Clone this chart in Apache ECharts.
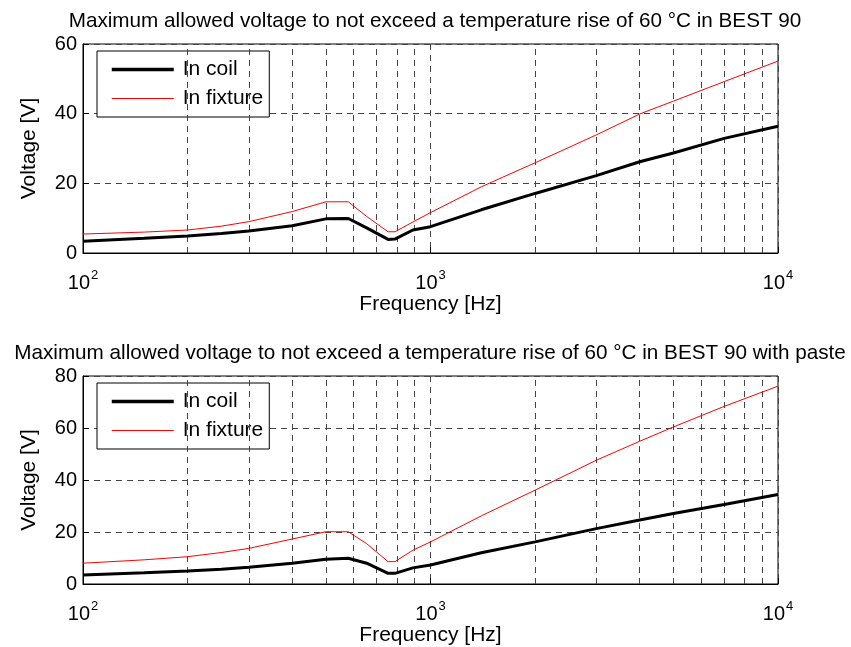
<!DOCTYPE html>
<html>
<head>
<meta charset="utf-8">
<script src="https://cdn.jsdelivr.net/npm/echarts@6/dist/echarts.min.js"></script>
<style>html,body{margin:0;padding:0;background:#fff;}#c{width:851px;height:647px;}</style>
</head>
<body>
<div id="c"></div>
<script>
// ---- data ----
var freq = [100, 150, 200, 250, 300, 400, 500, 580, 655, 755, 790, 890, 1000, 1400, 2000, 3000, 4000, 5000, 7000, 10000];
var coilTop    = [3.4, 4.2, 4.9, 5.6, 6.3, 7.8, 9.8, 9.9, 7.2, 3.9, 4.0, 6.6, 7.55, 12.4, 17.1, 22.2, 26.2, 28.7, 32.9, 36.4];
var fixtureTop = [5.45, 6.0, 6.6, 7.7, 9.0, 11.9, 14.7, 14.7, 10.5, 6.1, 6.1, 8.9, 11.6, 19.0, 25.9, 33.9, 39.9, 43.6, 49.2, 55.1];
var coilBot    = [3.5, 4.3, 5.0, 5.7, 6.4, 8.0, 9.5, 9.9, 8.0, 4.1, 4.1, 6.2, 7.3, 12.0, 16.2, 21.3, 24.6, 27.1, 30.6, 34.4];
var fixtureBot = [8.0, 9.3, 10.5, 12.1, 13.7, 17.3, 20.1, 20.1, 15.5, 8.6, 8.6, 13.0, 16.2, 26.2, 36.1, 47.6, 54.9, 60.4, 68.3, 76.1];
var minorGridFreq = [200, 300, 400, 500, 600, 700, 800, 900, 2000, 3000, 4000, 5000, 6000, 7000, 8000, 9000];
var yTopMax = 60, yBotMax = 80, yInterval = 20;
var titleTop = 'Maximum allowed voltage to not exceed a temperature rise of 60 \u00B0C in BEST 90';
var titleBot = 'Maximum allowed voltage to not exceed a temperature rise of 60 \u00B0C in BEST 90 with paste';

function pairs(xs, ys){ return xs.map(function(x,i){ return [x, ys[i]]; }); }

var FONT = 'Liberation Sans';
var gridDash = { color: '#444', width: 1, type: [6, 5] };

function xAxis(idx){
  return {
    type: 'log', logBase: 10, min: 100, max: 10000, gridIndex: idx,
    name: 'Frequency [Hz]', nameLocation: 'middle', nameGap: 40,
    nameTextStyle: { fontFamily: FONT, fontSize: 21, color: '#000' },
    axisLine: { show: true, lineStyle: { color: '#000', width: 1 } },
    axisTick: { show: true, inside: true, length: 6, lineStyle: { color: '#000' } },
    splitLine: { show: true, lineStyle: gridDash },
    axisLabel: {
      margin: 16, color: '#000',
      formatter: function(v){ return '{b|10}{s|' + Math.round(Math.log10(v)) + '}'; },
      rich: {
        b: { fontFamily: FONT, fontSize: 20, color: '#000' },
        s: { fontFamily: FONT, fontSize: 13, color: '#000', padding: [0, 0, 15, 1] }
      }
    }
  };
}
function yAxis(idx, max){
  return {
    type: 'value', min: 0, max: max, interval: yInterval, gridIndex: idx,
    name: 'Voltage [V]', nameLocation: 'middle', nameGap: 43,
    nameTextStyle: { fontFamily: FONT, fontSize: 21, color: '#000' },
    axisLine: { show: true, lineStyle: { color: '#000', width: 1 } },
    axisTick: { show: true, inside: true, length: 6, lineStyle: { color: '#000' } },
    splitLine: { show: true, lineStyle: gridDash },
    axisLabel: { fontFamily: FONT, fontSize: 20, color: '#000', margin: 6 }
  };
}
function legend(top){
  return {
    data: [
      { name: 'In coil', lineStyle: { color: '#000', width: 3.5 } },
      { name: 'In fixture', lineStyle: { color: '#ff0000', width: 1 } }
    ],
    orient: 'vertical', left: 97, top: top,
    itemWidth: 62, itemHeight: 14, itemGap: 8,
    padding: [8, 6, 8, 13],
    itemStyle: { opacity: 0 },
    borderColor: '#000', borderWidth: 1, backgroundColor: '#fff',
    textStyle: { fontFamily: FONT, fontSize: 21, color: '#000', padding: [0, 0, 0, 4] },
    selectedMode: false
  };
}
function lineSeries(name, idx, data, color, width){
  return {
    name: name, type: 'line', xAxisIndex: idx, yAxisIndex: idx,
    data: data, symbol: 'none', smooth: false, z: 5,
    lineStyle: { color: color, width: width }, itemStyle: { color: color },
    animation: false
  };
}
function minorSeries(idx){
  return {
    name: '_minor' + idx, type: 'line', xAxisIndex: idx, yAxisIndex: idx,
    data: [], z: 1, animation: false,
    markLine: {
      silent: true, symbol: ['none', 'none'], label: { show: false },
      lineStyle: gridDash, animation: false,
      data: minorGridFreq.map(function(f){ return { xAxis: f }; })
    }
  };
}

var chart = echarts.init(document.getElementById('c'), null, { renderer: 'canvas' });
chart.setOption({
  animation: false,
  backgroundColor: '#fff',
  title: [
    { text: titleTop, left: 430, top: 6, textAlign: 'center',
      textStyle: { fontFamily: FONT, fontSize: 20.7, fontWeight: 'normal', color: '#000' } },
    { text: titleBot, left: 425, top: 338, textAlign: 'center',
      textStyle: { fontFamily: FONT, fontSize: 20.7, fontWeight: 'normal', color: '#000' } }
  ],
  grid: [
    { left: 83, top: 44, width: 695, height: 209, show: true, borderColor: '#000', borderWidth: 1, backgroundColor: 'transparent' },
    { left: 83, top: 376, width: 695, height: 208, show: true, borderColor: '#000', borderWidth: 1, backgroundColor: 'transparent' }
  ],
  xAxis: [xAxis(0), xAxis(1)],
  yAxis: [yAxis(0, yTopMax), yAxis(1, yBotMax)],
  legend: [legend(51), legend(383)],
  series: [
    minorSeries(0), minorSeries(1),
    lineSeries('In coil', 0, pairs(freq, coilTop), '#000', 3),
    lineSeries('In fixture', 0, pairs(freq, fixtureTop), '#ff0000', 1),
    lineSeries('In coil', 1, pairs(freq, coilBot), '#000', 3),
    lineSeries('In fixture', 1, pairs(freq, fixtureBot), '#ff0000', 1)
  ]
});
</script>
</body>
</html>
